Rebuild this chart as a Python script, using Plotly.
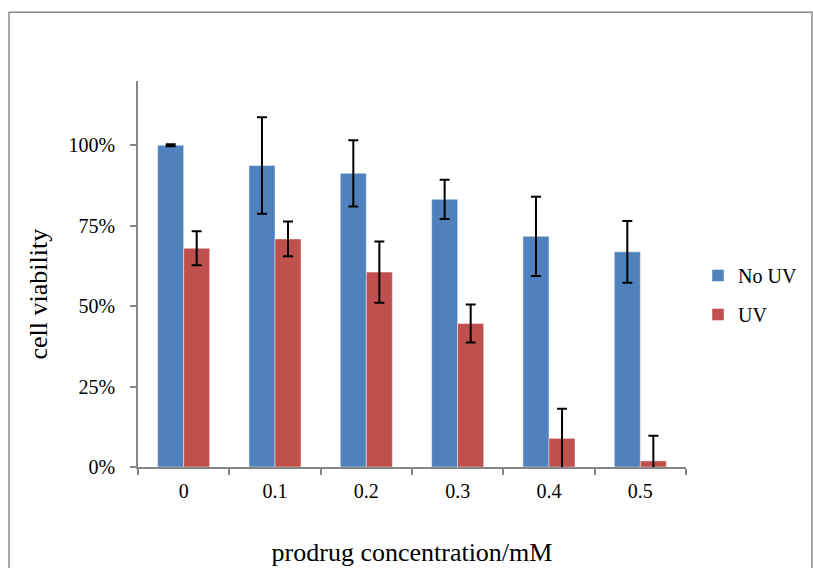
import plotly.graph_objects as go

# Prodrug concentration (mM) on the category axis
concentrations = ["0", "0.1", "0.2", "0.3", "0.4", "0.5"]

# Mean cell viability (fraction of control) and standard deviations
no_uv_mean = [1.000, 0.937, 0.913, 0.832, 0.717, 0.669]
no_uv_sd = [0.003, 0.150, 0.103, 0.061, 0.123, 0.096]

uv_mean = [0.680, 0.709, 0.606, 0.446, 0.089, 0.019]
uv_sd = [0.053, 0.054, 0.095, 0.059, 0.092, 0.078]

BLUE = "#4F81BD"
RED = "#C0504D"
AXIS_GREY = "#868686"
FONT = "Liberation Serif, Times New Roman, serif"

fig = go.Figure()

fig.add_trace(go.Bar(
    name="No UV", x=concentrations, y=no_uv_mean,
    marker=dict(color=BLUE, line=dict(color="rgba(255,255,255,0.45)", width=1)),
    error_y=dict(type="data", array=no_uv_sd, visible=True,
                 color="black", thickness=2, width=5),
    legendgroup="a",
))
fig.add_trace(go.Bar(
    name="UV", x=concentrations, y=uv_mean,
    marker=dict(color=RED, line=dict(color="rgba(255,255,255,0.45)", width=1)),
    error_y=dict(type="data", array=uv_sd, visible=True,
                 color="black", thickness=2, width=5),
    legendgroup="b",
))

# Plot area geometry in pixels
W, H = 813, 568
L, R, T, B = 138, 686, 80.7, 466.7
pw, ph = R - L, B - T

def px_x(x):
    return (x - L) / pw

def px_y(y):
    return (B - y) / ph

fig.update_layout(
    width=W, height=H, autosize=False,
    margin=dict(l=L, r=W - R, t=T, b=H - B, pad=0),
    paper_bgcolor="white", plot_bgcolor="white",
    font=dict(family=FONT, size=20, color="black"),
    barmode="group", bargap=0.43, bargroupgap=0,
    showlegend=True,
    legend=dict(
        xref="container", yref="container",
        x=698 / W, y=1 - 256 / H, xanchor="left", yanchor="top",
        traceorder="grouped", tracegroupgap=10,
        font=dict(family=FONT, size=20, color="black"),
        bgcolor="rgba(0,0,0,0)", itemwidth=30,
    ),
    xaxis=dict(
        type="category",
        showline=True, linecolor=AXIS_GREY, linewidth=1.5,
        ticks="outside", tickson="boundaries", ticklen=6,
        tickcolor=AXIS_GREY, tickwidth=1.5,
        showgrid=False, zeroline=False,
        ticklabelstandoff=5,
        tickfont=dict(family=FONT, size=20, color="black"),
        title=dict(text="prodrug concentration/mM",
                   font=dict(family=FONT, size=26, color="black"),
                   standoff=42),
        automargin=False,
    ),
    yaxis=dict(
        range=[0, 1.2], tick0=0, dtick=0.25, tickformat=".0%",
        showline=True, linecolor=AXIS_GREY, linewidth=1.5,
        ticks="outside", ticklen=6, tickcolor=AXIS_GREY, tickwidth=1.5,
        showgrid=False, zeroline=False,
        ticklabelstandoff=11,
        tickfont=dict(family=FONT, size=20, color="black"),
        automargin=False,
    ),
)

# Y-axis title, sitting a little below the middle of the axis
fig.add_annotation(
    text="cell viability", textangle=-90,
    xref="paper", yref="paper", x=px_x(38.7), y=px_y(293.5),
    xanchor="center", yanchor="middle", showarrow=False,
    font=dict(family=FONT, size=26, color="black"),
)

# Chart-area frame
fig.add_shape(
    type="rect", xref="paper", yref="paper", layer="below",
    x0=px_x(9), x1=px_x(812), y0=px_y(580), y1=px_y(12),
    line=dict(color="#8C8C8C", width=1.5), fillcolor="rgba(0,0,0,0)",
)

fig.write_html("out.html")
